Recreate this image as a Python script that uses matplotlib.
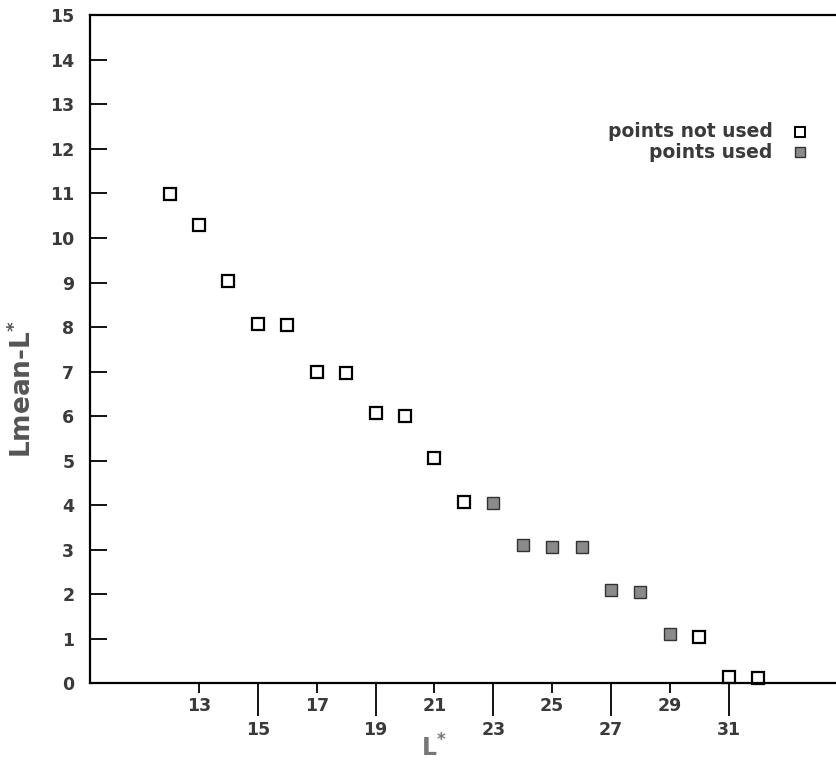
import numpy as np
import matplotlib
matplotlib.use('Agg')
import matplotlib.pyplot as plt

# L* values and Lmean-L*
l_not_used = [12, 13, 14, 15, 16, 17, 18, 19, 20, 21, 22, 30, 31, 32]
d_not_used = [10.98, 10.3, 9.03, 8.07, 8.04, 6.99, 6.96, 6.07, 6.01, 5.05, 4.08, 1.04, 0.13, 0.11]
l_used = [23, 24, 25, 26, 27, 28, 29]
d_used = [4.05, 3.1, 3.07, 3.05, 2.1, 2.06, 1.1]

short_ticks = [13, 17, 21, 25, 29]
long_ticks = [15, 19, 23, 27, 31]
y_ticks = list(range(0, 16))

plt.rcParams['mathtext.default'] = 'regular'
txt = '#3a3a3a'

fig = plt.figure(figsize=(8.37, 7.66), dpi=100)
ax = fig.add_axes([0.107, 0.108, 0.895, 0.872])

ax.plot(l_not_used, d_not_used, 's', ms=8, mfc='white', mec='black', mew=1.6, clip_on=False)
ax.plot(l_used, d_used, 's', ms=8, mfc='#8a8a8a', mec='#333333', mew=1.0, clip_on=False)

ax.set_xlim(9.28, 34.74)
ax.set_ylim(0, 15)

ax.spines['right'].set_visible(False)
for s in ['left', 'bottom', 'top']:
    ax.spines[s].set_linewidth(1.6)

ax.set_xticks(short_ticks)
ax.set_xticklabels([str(v) for v in short_ticks])
ax.set_xticks(long_ticks, minor=True)
ax.set_xticklabels([str(v) for v in long_ticks], minor=True)
ax.tick_params(axis='x', which='major', direction='out', length=7, width=1.3, pad=3,
               labelsize=12.5, labelcolor=txt)
ax.tick_params(axis='x', which='minor', direction='out', length=24, width=1.3, pad=3,
               labelsize=12.5, labelcolor=txt)
for lab in ax.get_xticklabels(which='both'):
    lab.set_fontweight('bold')

ax.set_yticks(y_ticks)
ax.set_yticklabels([str(v) for v in y_ticks])
ax.tick_params(axis='y', direction='in', length=12, width=1.3, pad=11,
               labelsize=12.5, labelcolor=txt)
for lab in ax.get_yticklabels():
    lab.set_fontweight('bold')

ax.set_xlabel('L$^{*}$', fontsize=17, fontweight='bold', color='#777777')
ax.xaxis.set_label_coords(0.46, -0.076)
ax.set_ylabel('Lmean-L$^{*}$', fontsize=19, fontweight='bold', color='#555555')
ax.yaxis.set_label_coords(-0.07, 0.44)

# legend drawn by hand, text right-aligned with marker on the right
ax.text(0.912, 0.826, 'points not used', transform=ax.transAxes, ha='right', va='center',
        fontsize=13.5, fontweight='bold', color=txt)
ax.text(0.912, 0.795, 'points used', transform=ax.transAxes, ha='right', va='center',
        fontsize=13.5, fontweight='bold', color=txt)
ax.plot([0.948], [0.826], 's', ms=6.5, mfc='white', mec='black', mew=1.4, transform=ax.transAxes)
ax.plot([0.948], [0.795], 's', ms=6.5, mfc='#8a8a8a', mec='#333333', mew=1.0, transform=ax.transAxes)

fig.savefig('out.png', dpi=100)
